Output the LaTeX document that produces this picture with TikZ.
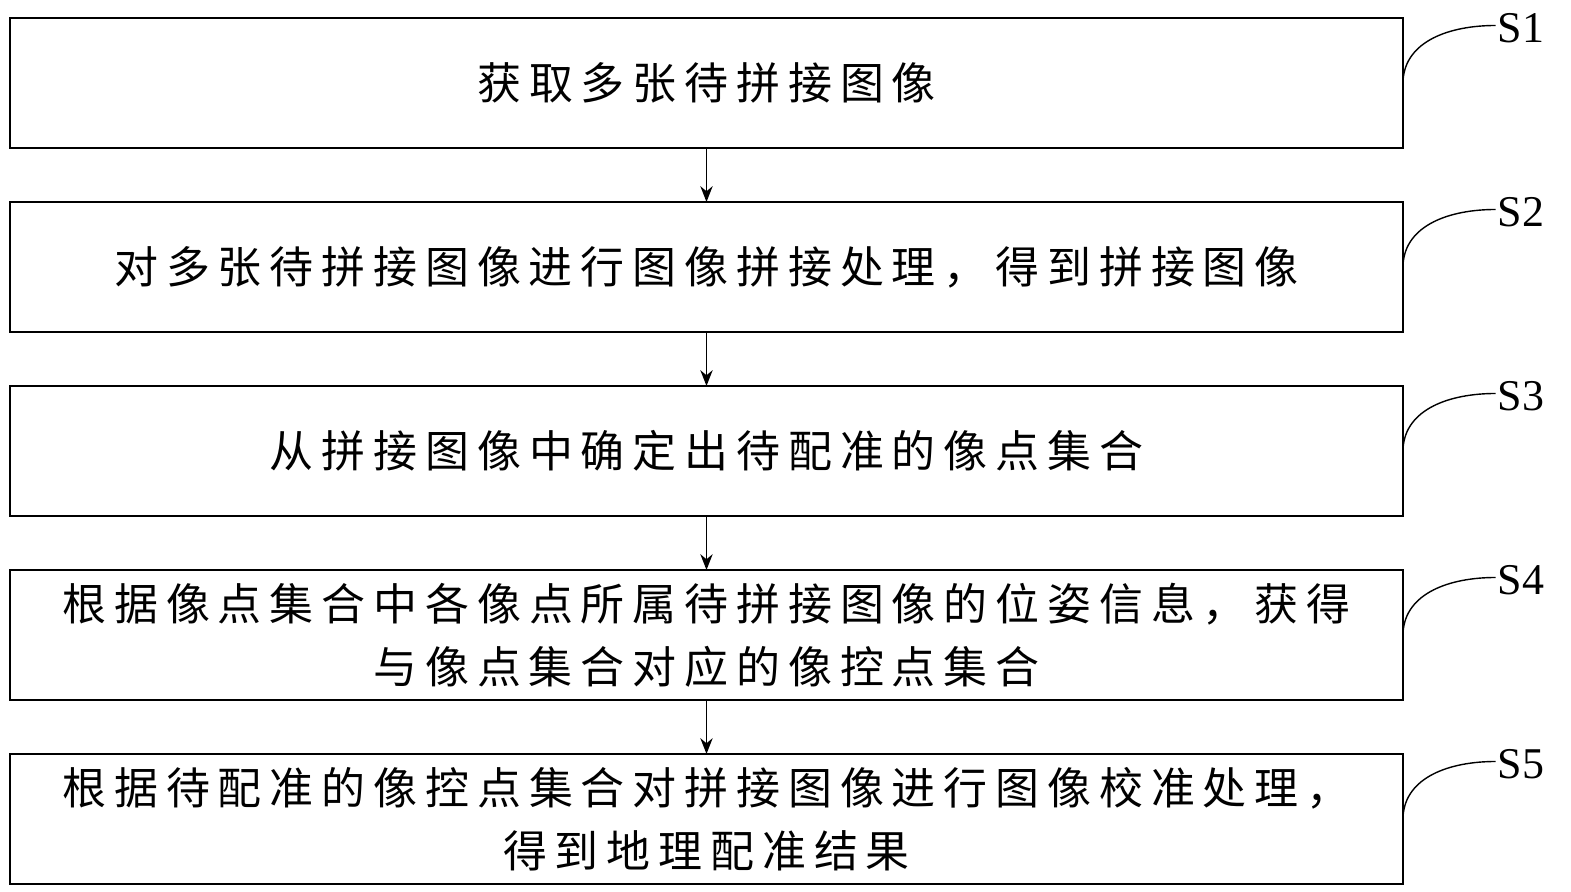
\documentclass[tikz,border=0pt]{standalone}
\usepackage{fontspec}
\setmainfont{Liberation Serif}
\newfontfamily\cjk[LetterSpace=18]{Noto Sans CJK SC}
\usetikzlibrary{positioning}
\usetikzlibrary{arrows.meta}

\tikzset{
  stepbox/.style={draw, line width=1pt, minimum width=27.86cm, minimum height=2.6cm,
    text width=27.2cm, align=center, font=\cjk\fontsize{25}{36}\selectfont, outer sep=0pt},
  tag/.style={font=\fontsize{25}{28}\selectfont, inner sep=1pt},
  flow/.style={-{Stealth[length=9pt,width=7pt]}, line width=1pt},
  hook/.style={line width=0.8pt}
}

\begin{document}
\begin{tikzpicture}[node distance=1.08cm]
\useasboundingbox (0,0) rectangle (31.42,17.84);

% Steps
\node [stepbox] (s1box) at (14.13,16.18) {获取多张待拼接图像};
\node [stepbox, below=of s1box] (s2box) {对多张待拼接图像进行图像拼接处理，得到拼接图像};
\node [stepbox, below=of s2box] (s3box) {从拼接图像中确定出待配准的像点集合};
\node [stepbox, below=of s3box] (s4box) {根据像点集合中各像点所属待拼接图像的位姿信息，获得\\与像点集合对应的像控点集合};
\node [stepbox, below=of s4box] (s5box) {根据待配准的像控点集合对拼接图像进行图像校准处理，\\得到地理配准结果};

% Arrows
\draw [flow] (s1box) -- (s2box);
\draw [flow] (s2box) -- (s3box);
\draw [flow] (s3box) -- (s4box);
\draw [flow] (s4box) -- (s5box);

% Tags
\foreach \i in {1,...,5} {
  \node [tag, anchor=west] (s\i) at ([xshift=1.85cm,yshift=1.1cm]s\i box.east) {S\i};
  \draw [hook] ([yshift=0.05cm]s\i box.east) .. controls +(0.05,0.8) and +(-0.9,0) .. ([yshift=0.05cm]s\i.west);
}

\end{tikzpicture}
\end{document}
